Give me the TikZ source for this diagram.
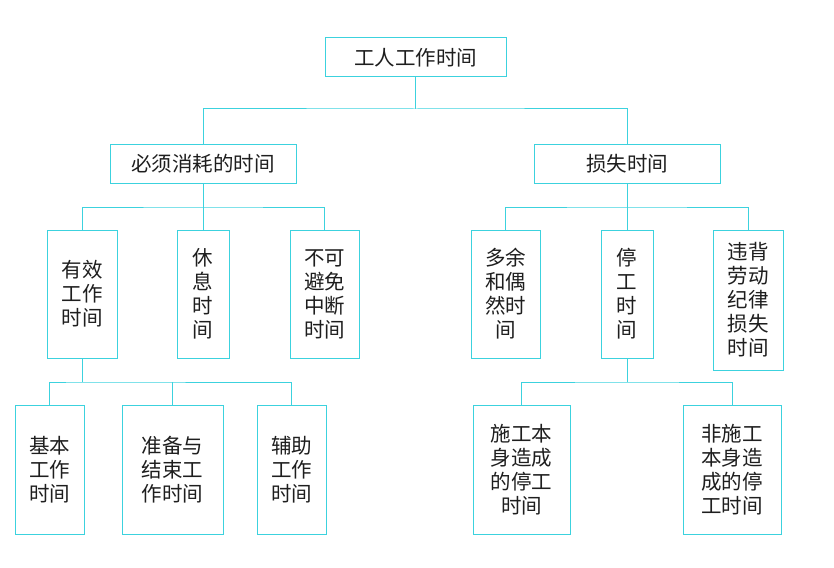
\documentclass[tikz,border=0pt]{standalone}
\usepackage{fontspec}
\setmainfont{Noto Sans CJK SC}
\usepackage{xcolor}
\definecolor{lineCyan}{HTML}{3CD2DE}
\definecolor{textDark}{HTML}{1E1E1E}
\usetikzlibrary{positioning,calc}
\tikzset{%
  timeBox/.style={
    rectangle, draw=lineCyan, line width=1pt, fill=white,
    align=center, inner sep=0pt, text=textDark,
    font=\fontsize{20.5}{24}\selectfont},
  wideBox/.style ={timeBox, minimum height=39pt},
  tallBox/.style ={timeBox, minimum height=128pt},
  lowBox/.style  ={timeBox, minimum height=129pt},
  branchLine/.style={draw=lineCyan, line width=1pt},
}
\begin{document}
\begin{tikzpicture}[x=1pt,y=-1pt]
  \useasboundingbox (0,0) rectangle (834,567);
  % top level
  \node[wideBox, minimum width=181pt] (root) at (415.5,57.5) {工人工作时间};
  \node[wideBox, minimum width=186pt] (must) at (203,163.5) {必须消耗的时间};
  \node[wideBox, minimum width=186pt] (loss) at (627,163.5) {损失时间};
  % second level
  \node[tallBox, minimum width=70pt] (eff)   at (82,294)    {有效\\工作\\时间};
  \node[tallBox, minimum width=52pt] (rest)  at (203,294)   {休\\息\\时\\间};
  \node[tallBox, minimum width=69pt] (unav)  at (324.5,294) {不可\\避免\\中断\\时间};
  \node[tallBox, minimum width=69pt] (extra) at (505.5,294) {多余\\和偶\\然时\\间};
  \node[tallBox, minimum width=52pt] (stop)  at (627,294)   {停\\工\\时\\间};
  \node[timeBox, minimum width=70pt, minimum height=140pt] (viol) at (748,300) {违背\\劳动\\纪律\\损失\\时间};
  % third level
  \node[lowBox, minimum width=69pt]  (basic)   at (49.5,469.5)  {基本\\工作\\时间};
  \node[lowBox, minimum width=101pt] (prep)    at (172.5,469.5) {准备与\\结束工\\作时间};
  \node[lowBox, minimum width=69pt]  (aux)     at (291.5,469.5) {辅助\\工作\\时间};
  \node[lowBox, minimum width=97pt]  (cons)    at (521.5,469.5) {施工本\\身造成\\的停工\\时间};
  \node[lowBox, minimum width=98pt]  (noncons) at (732,469.5)   {非施工\\本身造\\成的停\\工时间};
  % bus points
  \coordinate (rootBus) at (415.5,109);
  \coordinate (mustBus) at (203,207);
  \coordinate (lossBus) at (627,207);
  \coordinate (effBus)  at (82,382);
  \coordinate (stopBus) at (627,382);
  % connectors
  \draw[branchLine] (root.south) -- (rootBus);
  \draw[branchLine] (must.north) |- (rootBus) -| (loss.north);
  \draw[branchLine] (must.south) -- (rest.north);
  \draw[branchLine] (eff.north) |- (mustBus) -| (unav.north);
  \draw[branchLine] (loss.south) -- (stop.north);
  \draw[branchLine] (extra.north) |- (lossBus) -| (viol.north);
  \draw[branchLine] (eff.south) -- (effBus);
  \draw[branchLine] (basic.north) |- (effBus) -| (aux.north);
  \draw[branchLine] (prep.north) -- (prep.north |- effBus);
  \draw[branchLine] (stop.south) -- (stopBus);
  \draw[branchLine] (cons.north) |- (stopBus) -| (noncons.north);
\end{tikzpicture}
\end{document}
